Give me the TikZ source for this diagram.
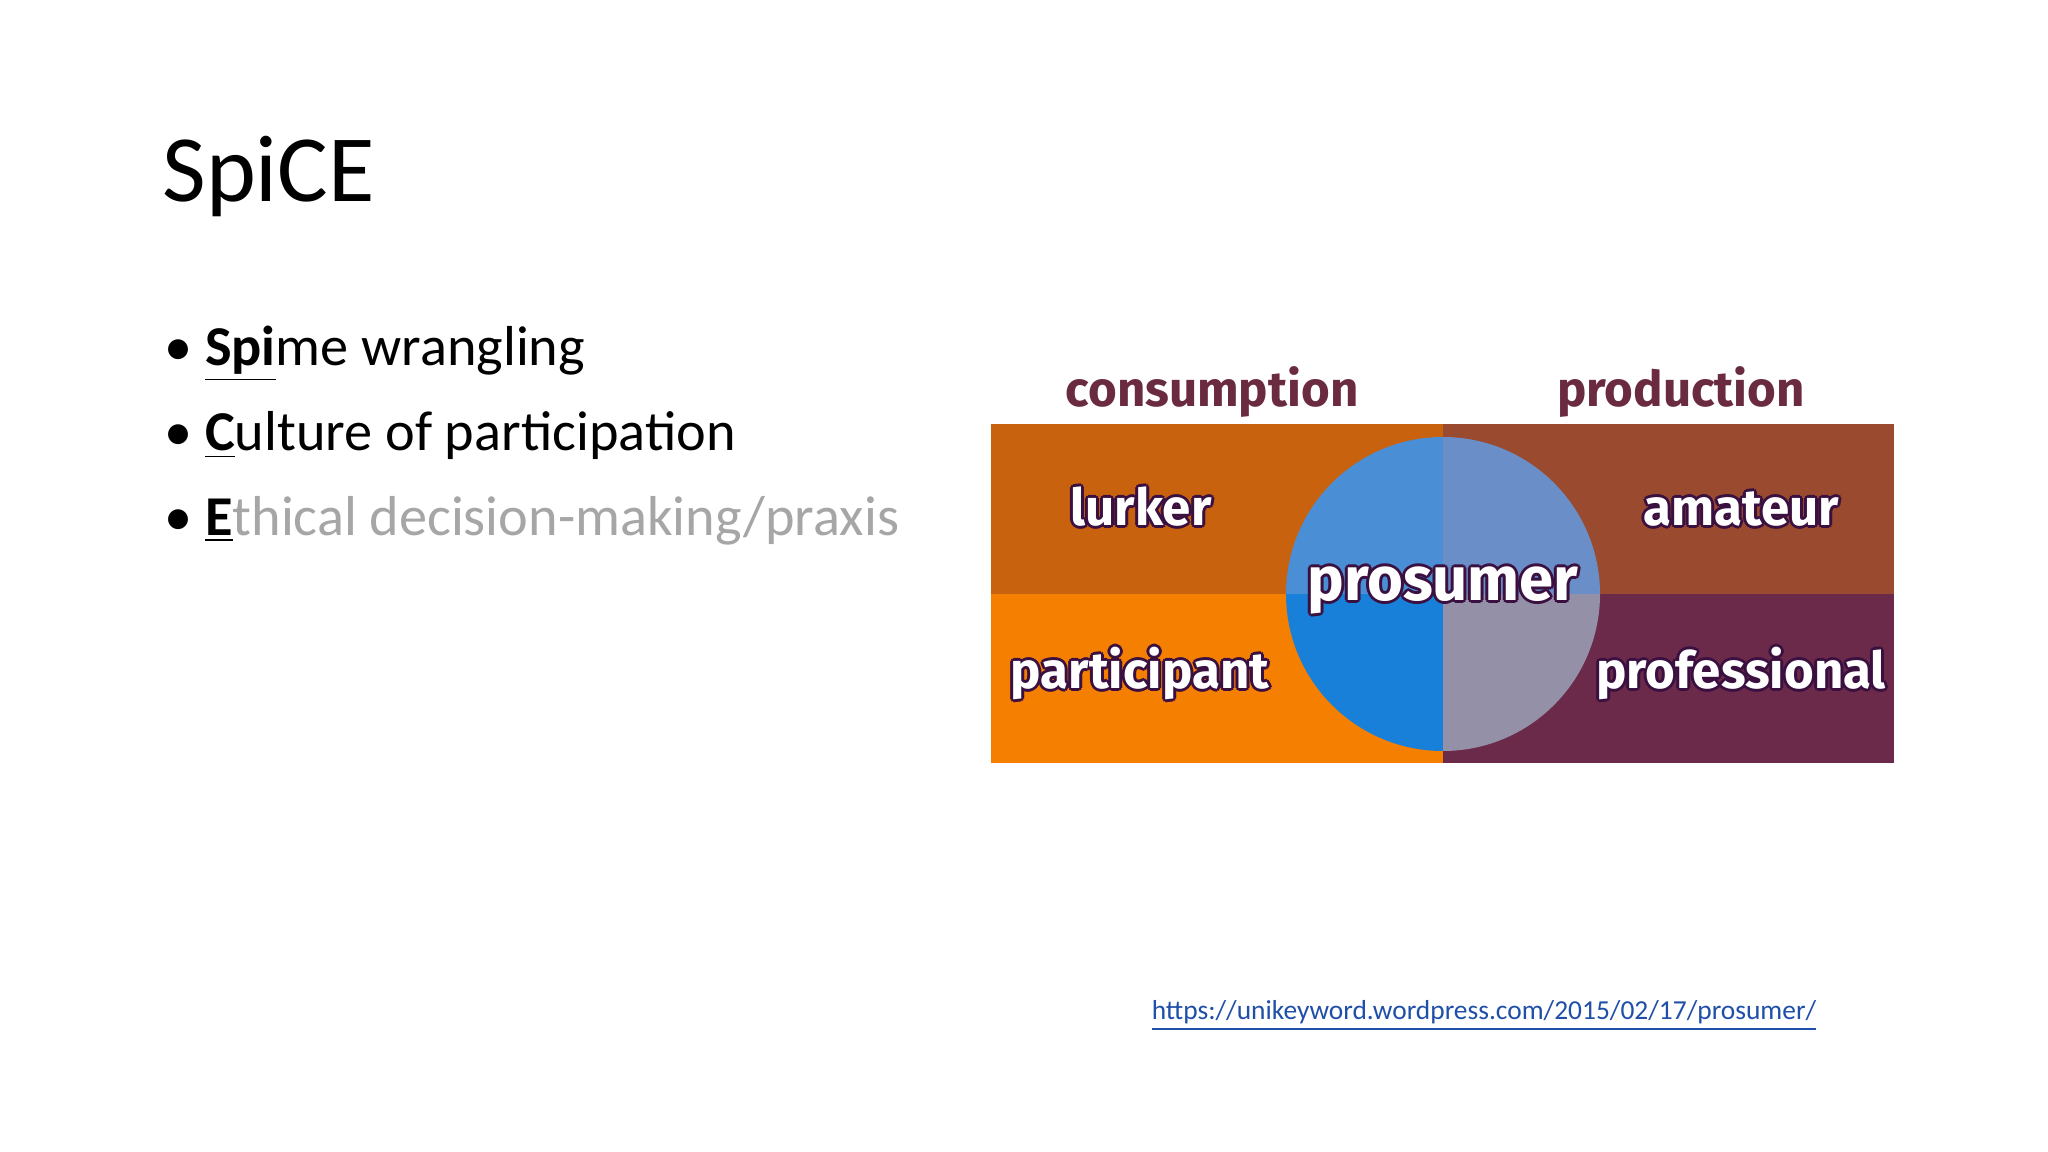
\documentclass[tikz,border=0pt]{standalone}
\usepackage{fontspec}
\setmainfont{Carlito}
\newfontfamily\lab{Fira Sans}
\definecolor{tl}{HTML}{C8620F}
\definecolor{bl}{HTML}{F57F00}
\definecolor{tr}{HTML}{9A4A2E}
\definecolor{br}{HTML}{6B2A4A}
\definecolor{ctl}{HTML}{4A8FD6}
\definecolor{cbl}{HTML}{1880D8}
\definecolor{ctr}{HTML}{6A8EC8}
\definecolor{cbr}{HTML}{9490A8}
\definecolor{outl}{HTML}{3A1040}
\definecolor{hd}{HTML}{6A2A40}
\definecolor{grayt}{HTML}{A6A6A6}
\definecolor{lnk}{HTML}{1F4FA8}
\newcommand{\outlabel}[4]{%
 \foreach \dx/\dy in {-3/0,3/0,0/-3,0/3,-2/-2,2/2,-2/2,2/-2}
  \node[font=\lab\bfseries\fontsize{#3}{#3}\selectfont,text=outl] at ($(#1)+(\dx,\dy)$) {#2};
 \node[font=\lab\bfseries\fontsize{#3}{#3}\selectfont,text=white] (#4) at (#1) {#2};}
\usetikzlibrary{calc}
\begin{document}
\begin{tikzpicture}[x=0.01cm,y=-0.01cm,
 bul/.style={anchor=base west,font=\fontsize{16}{18}\selectfont}]
\useasboundingbox[fill=white] (0,0) rectangle (2048,1152);
\node[anchor=base west,font=\fontsize{27}{32}\selectfont] (title) at (150,202) {SpiCE};
\node[bul] (b1) at (152,366) {\textbullet\ \underline{\textbf{Spi}}me wrangling};
\node[bul] (b2) at (152,451) {\textbullet\ \underline{\textbf{C}}ulture of participation};
\node[bul] (b3) at (152,535) {\textbullet\ \underline{\textbf{E}}\textcolor{grayt}{thical decision-making/praxis}};
% image
\fill[tl] (991,424) rectangle (1443,594);
\fill[bl] (991,594) rectangle (1443,763);
\fill[tr] (1443,424) rectangle (1894,594);
\fill[br] (1443,594) rectangle (1894,763);
\coordinate (c) at (1443,594);
\fill[cbl] (c) -- ++(-157,0) arc[start angle=180,end angle=90,radius=157] -- cycle;
\fill[ctl] (c) -- ++(-157,0) arc[start angle=180,end angle=270,radius=157] -- cycle;
\fill[cbr] (c) -- ++(157,0) arc[start angle=0,end angle=90,radius=157] -- cycle;
\fill[ctr] (c) -- ++(157,0) arc[start angle=0,end angle=-90,radius=157] -- cycle;
\node[font=\lab\bfseries\fontsize{14}{14}\selectfont,text=hd] (cons) at (1212,392) {consumption};
\node[font=\lab\bfseries\fontsize{14}{14}\selectfont,text=hd] (prod) at (1681,392) {production};
\coordinate (p1) at (1141,507); \coordinate (p2) at (1741,509);
\coordinate (p3) at (1443,590); \coordinate (p4) at (1140,673); \coordinate (p5) at (1741,673);
\outlabel{p1}{lurker}{14.5}{lurker}
\outlabel{p2}{amateur}{14.5}{amateur}
\outlabel{p3}{prosumer}{17.5}{prosumer}
\outlabel{p4}{participant}{14.5}{participant}
\outlabel{p5}{professional}{14.5}{professional}
\node[font=\fontsize{7.8}{9}\selectfont,text=lnk] (link) at (1484,1016) {\underline{https://unikeyword.wordpress.com/2015/02/17/prosumer/}};
\end{tikzpicture}
\end{document}
